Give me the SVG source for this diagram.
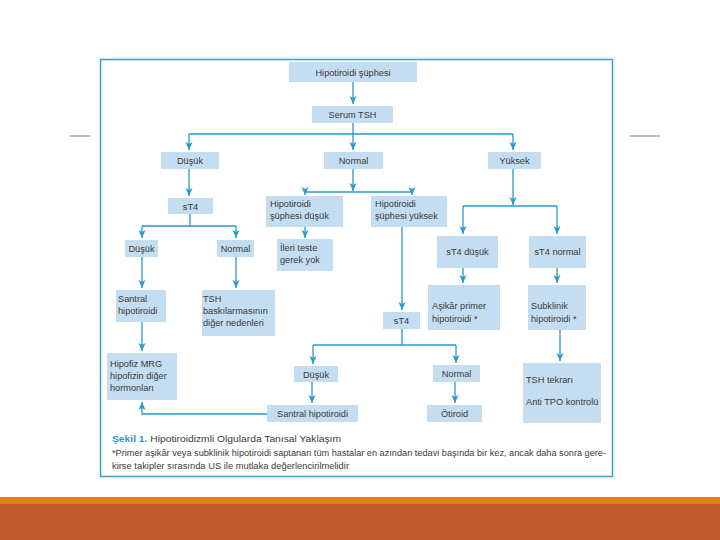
<svg xmlns="http://www.w3.org/2000/svg" width="720" height="540" viewBox="0 0 720 540">
<style>
.b{fill:#C4DDF1}
.t{font-family:"Liberation Sans",Arial,sans-serif;font-size:9.2px;fill:#3a3a3a}
.c{text-anchor:middle}
.e{fill:none;stroke:#2C98CE;stroke-width:1.3}
.cap{font-family:"Liberation Sans",Arial,sans-serif;font-size:8.5px;fill:#3a3a3a}
</style>
<defs>
<marker id="ah" markerUnits="userSpaceOnUse" markerWidth="9" markerHeight="8" refX="8" refY="3.5" orient="auto">
<path d="M0,0 L8,3.5 L0,7 L2,3.5 z" fill="#2C98CE"/>
</marker>
</defs>
<rect width="720" height="540" fill="#fff"/>
<line x1="70" y1="136" x2="90" y2="136" stroke="#777" stroke-width="1"/>
<line x1="630" y1="136" x2="660" y2="136" stroke="#777" stroke-width="1"/>
<rect x="0" y="497" width="720" height="7" fill="#E0821A"/>
<rect x="0" y="504" width="720" height="36" fill="#BF5A2C"/>
<rect x="100.5" y="59.5" width="512" height="417" fill="#fff" stroke="#3BA0BF" stroke-width="1.5"/>

<g id="connectors">
<path class="e" d="M353,82 V104" marker-end="url(#ah)"/>
<path class="e" d="M353,123 V134 M189,134 H513"/>
<path class="e" d="M189,134 V150" marker-end="url(#ah)"/>
<path class="e" d="M353,134 V150" marker-end="url(#ah)"/>
<path class="e" d="M513,134 V150" marker-end="url(#ah)"/>
<path class="e" d="M189,169 V196" marker-end="url(#ah)"/>
<path class="e" d="M190,214 V226 M142,226 H236"/>
<path class="e" d="M142,226 V238" marker-end="url(#ah)"/>
<path class="e" d="M236,226 V238" marker-end="url(#ah)"/>
<path class="e" d="M353,169 V191" marker-end="url(#ah)"/>
<path class="e" d="M305,192 H412"/>
<path class="e" d="M305,192 V195" marker-end="url(#ah)"/>
<path class="e" d="M412,192 V195" marker-end="url(#ah)"/>
<path class="e" d="M305,227 V238" marker-end="url(#ah)"/>
<path class="e" d="M402,227 V310" marker-end="url(#ah)"/>
<path class="e" d="M402,329 V345 M313,345 H456"/>
<path class="e" d="M313,345 V364" marker-end="url(#ah)"/>
<path class="e" d="M456,345 V363" marker-end="url(#ah)"/>
<path class="e" d="M312,382 V403" marker-end="url(#ah)"/>
<path class="e" d="M455,382 V403" marker-end="url(#ah)"/>
<path class="e" d="M267,414 H142 V402" marker-end="url(#ah)"/>
<path class="e" d="M142,257 V288" marker-end="url(#ah)"/>
<path class="e" d="M142,322 V351" marker-end="url(#ah)"/>
<path class="e" d="M236,257 V288" marker-end="url(#ah)"/>
<path class="e" d="M513,169 V205" marker-end="url(#ah)"/>
<path class="e" d="M463,206 H557"/>
<path class="e" d="M463,206 V234" marker-end="url(#ah)"/>
<path class="e" d="M557,206 V234" marker-end="url(#ah)"/>
<path class="e" d="M463,268 V283" marker-end="url(#ah)"/>
<path class="e" d="M557,268 V283" marker-end="url(#ah)"/>
<path class="e" d="M560,330 V361" marker-end="url(#ah)"/>
</g>

<g id="n1"><rect class="b" x="289" y="62" width="128" height="20"/><text class="t c" x="353" y="75.5">Hipotiroidi şüphesi</text></g>
<g id="n2"><rect class="b" x="312" y="106" width="81" height="17"/><text class="t c" x="352.5" y="117.5">Serum TSH</text></g>
<g id="n3"><rect class="b" x="161" y="152" width="58" height="17"/><text class="t c" x="190" y="163.5">Düşük</text></g>
<g id="n4"><rect class="b" x="324" y="152" width="59" height="17"/><text class="t c" x="353.5" y="163.5">Normal</text></g>
<g id="n5"><rect class="b" x="488" y="152" width="53" height="17"/><text class="t c" x="514.5" y="163.5">Yüksek</text></g>
<g id="n6"><rect class="b" x="168" y="198" width="45" height="16"/><text class="t c" x="190.5" y="209.5">sT4</text></g>
<g id="n7"><rect class="b" x="266" y="196" width="77" height="31"/><text class="t" x="270" y="206.5">Hipotiroidi</text><text class="t" x="270" y="218.5">şüphesi düşük</text></g>
<g id="n8"><rect class="b" x="371" y="196" width="76" height="31"/><text class="t" x="375" y="206.5">Hipotiroidi</text><text class="t" x="375" y="218.5">şüphesi yüksek</text></g>
<g id="n9"><rect class="b" x="125" y="240" width="33" height="17"/><text class="t c" x="141.5" y="251.5">Düşük</text></g>
<g id="n10"><rect class="b" x="217" y="240" width="37" height="17"/><text class="t c" x="235.5" y="251.5">Normal</text></g>
<g id="n11"><rect class="b" x="277" y="239" width="56" height="32"/><text class="t" x="280" y="251">İleri teste</text><text class="t" x="280" y="263">gerek yok</text></g>
<g id="n12"><rect class="b" x="437" y="236" width="61" height="32"/><text class="t c" x="467.5" y="255">sT4 düşük</text></g>
<g id="n13"><rect class="b" x="529" y="236" width="57" height="32"/><text class="t c" x="557.5" y="255">sT4 normal</text></g>
<g id="n14"><rect class="b" x="116" y="290" width="50" height="32"/><text class="t" x="118" y="302">Santral</text><text class="t" x="118" y="314">hipotiroidi</text></g>
<g id="n15"><rect class="b" x="202" y="290" width="73" height="46"/><text class="t" x="203" y="302">TSH</text><text class="t" x="203" y="314">baskılarmasının</text><text class="t" x="203" y="326">diğer nedenleri</text></g>
<g id="n16"><rect class="b" x="383" y="312" width="37" height="17"/><text class="t c" x="401.5" y="323.5">sT4</text></g>
<g id="n17"><rect class="b" x="428" y="285" width="72" height="45"/><text class="t" x="432" y="309">Aşikâr primer</text><text class="t" x="432" y="322">hipotiroidi *</text></g>
<g id="n18"><rect class="b" x="528" y="285" width="58" height="45"/><text class="t" x="531" y="309">Subklinik</text><text class="t" x="531" y="322">hipotiroidi *</text></g>
<g id="n19"><rect class="b" x="107" y="353" width="70" height="47"/><text class="t" x="110" y="367">Hipofiz MRG</text><text class="t" x="110" y="379">hipofizin diğer</text><text class="t" x="110" y="391">hormonları</text></g>
<g id="n20"><rect class="b" x="294" y="366" width="44" height="16"/><text class="t c" x="316" y="377.5">Düşük</text></g>
<g id="n21"><rect class="b" x="433" y="365" width="47" height="17"/><text class="t c" x="456.5" y="376.5">Normal</text></g>
<g id="n22"><rect class="b" x="523" y="363" width="78" height="60"/><text class="t" x="526" y="383">TSH tekrarı</text><text class="t" x="526" y="405">Anti TPO kontrolü</text></g>
<g id="n23"><rect class="b" x="267" y="405" width="91" height="17"/><text class="t c" x="312.5" y="416.5">Santral hipotiroidi</text></g>
<g id="n24"><rect class="b" x="427" y="405" width="55" height="17"/><text class="t c" x="454.5" y="416.5">Ötiroid</text></g>

<g id="caption">
<text class="cap" x="112" y="442" style="font-size:9.5px" textLength="229" lengthAdjust="spacingAndGlyphs"><tspan fill="#2C98CE" font-weight="bold">Şekil 1.</tspan> Hipotiroidizmli Olgularda Tanısal Yaklaşım</text>
<text class="cap" x="112" y="455.5" textLength="494" lengthAdjust="spacingAndGlyphs">*Primer aşikâr veya subklinik hipotiroidi saptanan tüm hastalar en azından tedavi başında bir kez, ancak daha sonra gere-</text>
<text class="cap" x="112" y="468.5" textLength="237" lengthAdjust="spacingAndGlyphs">kirse takipler sırasında US ile mutlaka değerlencirilmelidir</text>
</g>
</svg>
